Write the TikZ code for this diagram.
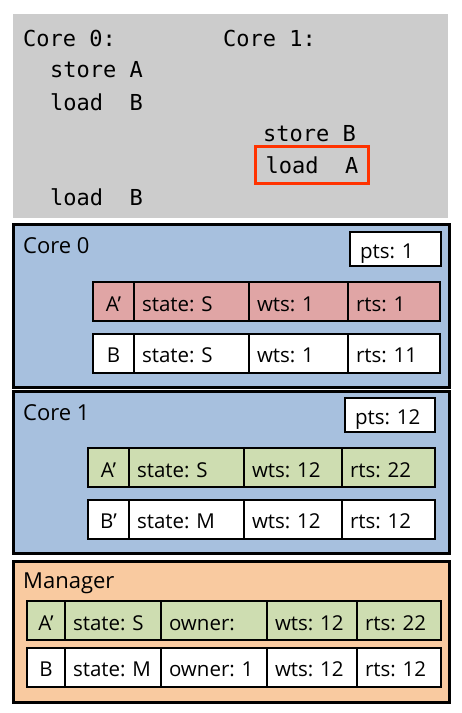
\documentclass[tikz,border=0pt]{standalone}
\usepackage{fontspec}
\setmainfont{Open Sans}
\setmonofont{DejaVu Sans Mono}
\usepackage{xcolor}
\usepackage{tikz}
\usetikzlibrary{positioning}

\definecolor{codegray}{HTML}{CCCCCC}
\definecolor{coreblue}{HTML}{A7C0DE}
\definecolor{linered}{HTML}{E0A5A5}
\definecolor{linegreen}{HTML}{CEDDB1}
\definecolor{mgrorange}{HTML}{F9CAA0}
\definecolor{hilite}{HTML}{FF3300}

\begin{document}
\frenchspacing
\begin{tikzpicture}[
            x=1pt, y=-1pt,
            % Texto del programa
            code/.style={anchor=base west, inner sep=0pt, font=\fontsize{22}{26}\selectfont\ttfamily},
            % Cajas de cada nivel
            box/.style={draw, line width=3pt, anchor=north west, minimum width=436pt},
            title/.style={anchor=base west, inner sep=0pt, font=\fontsize{22}{26}\selectfont},
            % Celdas de las lineas de cache
            cell/.style={draw, line width=2pt, fill=white, minimum height=39pt, inner xsep=8pt, inner ysep=0pt,
                         outer sep=0pt, text width=#1, align=left, text height=19pt, text depth=0pt,
                         font=\fontsize{20.5}{25}\selectfont},
            ptsbox/.style={cell=#1, line width=2.5pt, minimum height=34pt, anchor=north west, inner xsep=10pt}
        ]
            \fill[white] (0,0) rectangle (462,713);
            \useasboundingbox (0,0) rectangle (462,713);

            % Programa
            \node [fill=codegray, anchor=north west, inner sep=0pt, minimum width=435pt, minimum height=204pt] (prog) at (13,14) {};
            \node [code] (core0prog) at (23,46) {Core 0:};
            \node [code] (storeA) at (50,77.7) {store A};
            \node [code] (loadB) at (50,110) {load~~B};
            \node [code] (loadBagain) at (50,205) {load~~B};
            \node [code] (core1prog) at (223,46) {Core 1:};
            \node [code] (storeB) at (263,141.7) {store B};
            \node [code, draw=hilite, line width=3pt, inner xsep=8pt, inner ysep=5pt, minimum width=113pt,
                   text height=22pt, text depth=5pt] (loadA) at (254,173.3) {load~~A};

            % Core 0
            \node [box, fill=coreblue, minimum height=163pt] (core0) at (12,223) {};
            \node [title] (core0title) at (23,253.3) {Core 0};
            \node [ptsbox=71pt] (pts0) at (350,232) {pts: 1};
            \node [cell=25pt, fill=linered, align=center, anchor=west] (c0a) at (93,301.5) {A’};
            \node [cell=99pt, fill=linered, right=0pt of c0a] (c0astate) {state: S};
            \node [cell=83pt, fill=linered, right=0pt of c0astate] (c0awts) {wts: 1};
            \node [cell=76pt, fill=linered, right=0pt of c0awts] (c0arts) {rts: 1};
            \node [cell=25pt, align=center, anchor=west] (c0b) at (93,353) {B};
            \node [cell=99pt, right=0pt of c0b] (c0bstate) {state: S};
            \node [cell=83pt, right=0pt of c0bstate] (c0bwts) {wts: 1};
            \node [cell=76pt, right=0pt of c0bwts] (c0brts) {rts: 11};

            % Core 1
            \node [box, fill=coreblue, minimum height=162pt] (core1) at (12,390) {};
            \node [title] (core1title) at (23,420) {Core 1};
            \node [ptsbox=70pt] (pts1) at (345,398) {pts: 12};
            \node [cell=25pt, fill=linegreen, align=center, anchor=west] (c1a) at (88,467.5) {A’};
            \node [cell=99pt, fill=linegreen, right=0pt of c1a] (c1astate) {state: S};
            \node [cell=82pt, fill=linegreen, right=0pt of c1astate] (c1awts) {wts: 12};
            \node [cell=77pt, fill=linegreen, right=0pt of c1awts] (c1arts) {rts: 22};
            \node [cell=25pt, align=center, anchor=west] (c1b) at (88,519) {B’};
            \node [cell=99pt, right=0pt of c1b] (c1bstate) {state: M};
            \node [cell=82pt, right=0pt of c1bstate] (c1bwts) {wts: 12};
            \node [cell=77pt, right=0pt of c1bwts] (c1brts) {rts: 12};

            % Manager
            \node [box, fill=mgrorange, minimum height=141pt] (mgr) at (12,560) {};
            \node [title] (mgrtitle) at (23,588) {Manager};
            \node [cell=22pt, fill=linegreen, align=center, anchor=west] (ma) at (27,620.5) {A’};
            \node [cell=80pt, fill=linegreen, right=0pt of ma] (mastate) {state: S};
            \node [cell=90pt, fill=linegreen, right=0pt of mastate] (maowner) {owner:};
            \node [cell=74pt, fill=linegreen, right=0pt of maowner] (mawts) {wts: 12};
            \node [cell=68pt, fill=linegreen, right=0pt of mawts] (marts) {rts: 22};
            \node [cell=22pt, align=center, anchor=west] (mb) at (27,667) {B};
            \node [cell=80pt, right=0pt of mb] (mbstate) {state: M};
            \node [cell=90pt, right=0pt of mbstate] (mbowner) {owner: 1};
            \node [cell=74pt, right=0pt of mbowner] (mbwts) {wts: 12};
            \node [cell=68pt, right=0pt of mbwts] (mbrts) {rts: 12};
        \end{tikzpicture}
\end{document}
